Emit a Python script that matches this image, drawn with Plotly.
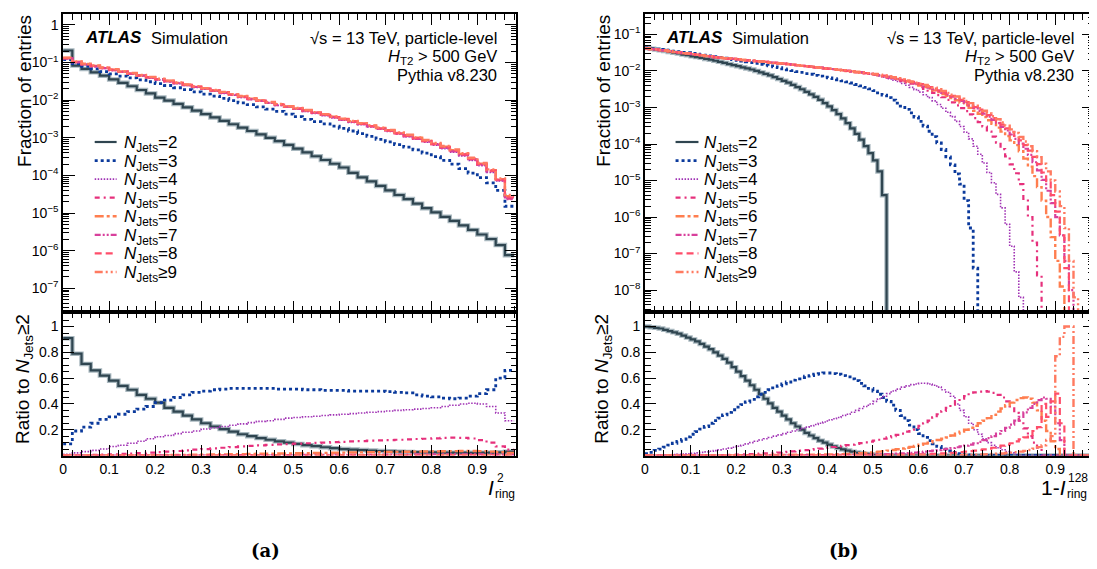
import plotly.graph_objects as go

FONT = "Liberation Sans"
# the page has an 8 px body margin: the figure is offset by 8 px inside the 1097x569 window
W, H = 1089, 561
OFF = 8


def px(x):
    return (x - OFF) / W


def py(y):
    return 1 - (y - OFF) / H


# ---------------- bin grids ----------------
edges_a = [round(0.02 * i, 2) for i in range(50)]   # 49 bins, 0 .. 0.98
edges_b = [round(0.01 * i, 2) for i in range(100)]  # 99 bins, 0 .. 0.99

series_names = ["<i>N</i><sub>Jets</sub>=2", "<i>N</i><sub>Jets</sub>=3", "<i>N</i><sub>Jets</sub>=4",
                "<i>N</i><sub>Jets</sub>=5", "<i>N</i><sub>Jets</sub>=6", "<i>N</i><sub>Jets</sub>=7",
                "<i>N</i><sub>Jets</sub>=8", "<i>N</i><sub>Jets</sub>≥9"]

# ---------------- (a) top: log10(fraction of entries) ----------------
a_top_nj2 = [-0.68, -1.08, -1.17, -1.26, -1.35, -1.45, -1.54, -1.63, -1.73, -1.82,
             -1.93, -2.01, -2.10, -2.19, -2.28, -2.37, -2.46, -2.55, -2.64, -2.73,
             -2.82, -2.91, -3.00, -3.09, -3.19, -3.29, -3.39, -3.49, -3.59, -3.69,
             -3.79, -3.93, -4.05, -4.16, -4.28, -4.40, -4.52, -4.63, -4.75, -4.87,
             -4.98, -5.10, -5.21, -5.33, -5.45, -5.57, -5.69, -5.85, -6.12]
a_top_nj3 = [-0.92, -1.03, -1.10, -1.17, -1.24, -1.30, -1.36, -1.41, -1.46, -1.51,
             -1.56, -1.61, -1.67, -1.72, -1.78, -1.84, -1.89, -1.95, -2.01, -2.07,
             -2.12, -2.18, -2.24, -2.30, -2.37, -2.44, -2.51, -2.57, -2.63, -2.69,
             -2.75, -2.82, -2.89, -2.96, -3.04, -3.11, -3.18, -3.25, -3.32, -3.41,
             -3.50, -3.60, -3.70, -3.82, -3.94, -4.06, -4.20, -4.40, -4.82]
a_top_nj4 = [-0.90, -1.00, -1.06, -1.11, -1.16, -1.21, -1.26, -1.31, -1.36, -1.41,
             -1.46, -1.51, -1.56, -1.61, -1.66, -1.71, -1.76, -1.82, -1.87, -1.93,
             -1.98, -2.03, -2.08, -2.14, -2.19, -2.24, -2.30, -2.35, -2.41, -2.47,
             -2.53, -2.59, -2.65, -2.71, -2.77, -2.83, -2.90, -2.97, -3.04, -3.12,
             -3.20, -3.29, -3.38, -3.48, -3.60, -3.74, -3.92, -4.15, -4.60]
a_top_nj5 = [-0.89, -0.99, -1.05, -1.10, -1.15, -1.20, -1.25, -1.30, -1.35, -1.40,
             -1.45, -1.50, -1.55, -1.60, -1.65, -1.70, -1.75, -1.80, -1.86, -1.91,
             -1.97, -2.02, -2.07, -2.12, -2.18, -2.23, -2.28, -2.34, -2.39, -2.45,
             -2.51, -2.57, -2.63, -2.69, -2.75, -2.81, -2.88, -2.95, -3.02, -3.09,
             -3.17, -3.26, -3.35, -3.45, -3.57, -3.71, -3.88, -4.12, -4.62]
a_top_nj6 = [-0.88, -0.98, -1.04, -1.09, -1.14, -1.19, -1.24, -1.29, -1.34, -1.39,
             -1.44, -1.49, -1.54, -1.59, -1.64, -1.69, -1.74, -1.79, -1.85, -1.90,
             -1.96, -2.01, -2.06, -2.11, -2.17, -2.22, -2.27, -2.33, -2.38, -2.44,
             -2.50, -2.56, -2.62, -2.68, -2.74, -2.80, -2.87, -2.93, -3.00, -3.08,
             -3.16, -3.24, -3.33, -3.43, -3.55, -3.69, -3.86, -4.10, -4.55]
a_top_nj7 = [-0.89, -0.99, -1.05, -1.10, -1.15, -1.20, -1.25, -1.30, -1.35, -1.40,
             -1.45, -1.50, -1.55, -1.60, -1.65, -1.70, -1.75, -1.81, -1.86, -1.92,
             -1.97, -2.02, -2.07, -2.13, -2.18, -2.23, -2.29, -2.34, -2.40, -2.46,
             -2.52, -2.58, -2.64, -2.70, -2.76, -2.82, -2.89, -2.96, -3.03, -3.10,
             -3.18, -3.27, -3.36, -3.46, -3.58, -3.72, -3.89, -4.13, -4.63]
a_top_nj8 = [-0.88, -0.98, -1.04, -1.09, -1.14, -1.19, -1.24, -1.29, -1.34, -1.39,
             -1.44, -1.49, -1.54, -1.59, -1.64, -1.69, -1.74, -1.80, -1.85, -1.91,
             -1.96, -2.01, -2.06, -2.12, -2.17, -2.22, -2.28, -2.33, -2.39, -2.45,
             -2.51, -2.57, -2.63, -2.69, -2.75, -2.81, -2.88, -2.94, -3.01, -3.09,
             -3.17, -3.25, -3.34, -3.44, -3.56, -3.70, -3.87, -4.11, -4.58]
a_top_nj9 = [-0.87, -0.97, -1.03, -1.08, -1.13, -1.18, -1.23, -1.28, -1.33, -1.38,
             -1.43, -1.48, -1.53, -1.58, -1.63, -1.68, -1.73, -1.78, -1.84, -1.89,
             -1.95, -2.00, -2.05, -2.10, -2.16, -2.21, -2.26, -2.32, -2.37, -2.43,
             -2.49, -2.55, -2.61, -2.67, -2.73, -2.79, -2.86, -2.92, -2.99, -3.06,
             -3.14, -3.22, -3.31, -3.41, -3.53, -3.67, -3.84, -4.08, -4.52]

# ---------------- (a) bottom: ratio to N_Jets>=2 ----------------
a_ratio_nj2 = [0.91, 0.79, 0.71, 0.66, 0.62, 0.58, 0.54, 0.51, 0.47, 0.44,
               0.41, 0.37, 0.34, 0.31, 0.28, 0.25, 0.225, 0.205, 0.185, 0.165,
               0.15, 0.135, 0.122, 0.11, 0.10, 0.09, 0.08, 0.072, 0.064, 0.057,
               0.05, 0.046, 0.042, 0.038, 0.035, 0.032, 0.03, 0.028, 0.026, 0.025,
               0.024, 0.023, 0.022, 0.022, 0.021, 0.022, 0.022, 0.025, 0.03]
a_ratio_nj3 = [0.09, 0.19, 0.22, 0.25, 0.28, 0.30, 0.32, 0.34, 0.36, 0.38,
               0.41, 0.43, 0.45, 0.47, 0.49, 0.50, 0.51, 0.515, 0.52, 0.52,
               0.52, 0.52, 0.52, 0.515, 0.515, 0.515, 0.51, 0.51, 0.505, 0.505,
               0.505, 0.50, 0.50, 0.50, 0.50, 0.495, 0.49, 0.485, 0.47, 0.46,
               0.455, 0.445, 0.44, 0.445, 0.46, 0.48, 0.51, 0.60, 0.66]
a_ratio_nj4 = [0.01, 0.02, 0.03, 0.04, 0.05, 0.07, 0.08, 0.095, 0.11, 0.13,
               0.145, 0.155, 0.17, 0.18, 0.19, 0.205, 0.215, 0.225, 0.235, 0.245,
               0.255, 0.265, 0.27, 0.28, 0.29, 0.295, 0.30, 0.305, 0.31, 0.315,
               0.32, 0.325, 0.33, 0.335, 0.34, 0.345, 0.35, 0.355, 0.36, 0.365,
               0.37, 0.38, 0.39, 0.40, 0.405, 0.40, 0.38, 0.33, 0.27]
a_ratio_nj5 = [0.0, 0.002, 0.003, 0.005, 0.007, 0.009, 0.012, 0.015, 0.018, 0.022,
               0.026, 0.03, 0.035, 0.04, 0.045, 0.05, 0.055, 0.06, 0.065, 0.07,
               0.074, 0.078, 0.082, 0.086, 0.089, 0.092, 0.095, 0.098, 0.10, 0.103,
               0.106, 0.109, 0.112, 0.115, 0.117, 0.12, 0.122, 0.125, 0.128, 0.13,
               0.133, 0.136, 0.138, 0.137, 0.132, 0.12, 0.10, 0.07, 0.045]
a_ratio_nj6 = [0.0, 0.0, 0.0, 0.0, 0.001, 0.001, 0.001, 0.002, 0.002, 0.003,
               0.003, 0.004, 0.005, 0.005, 0.006, 0.007, 0.008, 0.009, 0.010, 0.011,
               0.012, 0.013, 0.014, 0.015, 0.016, 0.017, 0.018, 0.019, 0.020, 0.021,
               0.022, 0.023, 0.024, 0.025, 0.026, 0.027, 0.028, 0.029, 0.030, 0.031,
               0.032, 0.033, 0.034, 0.035, 0.035, 0.034, 0.030, 0.025, 0.020]
a_ratio_nj7 = [0.0, 0.0, 0.0, 0.0, 0.0, 0.0, 0.0, 0.0, 0.001, 0.001,
               0.001, 0.001, 0.001, 0.001, 0.002, 0.002, 0.002, 0.002, 0.003, 0.003,
               0.003, 0.003, 0.004, 0.004, 0.004, 0.004, 0.005, 0.005, 0.005, 0.005,
               0.006, 0.006, 0.006, 0.006, 0.007, 0.007, 0.007, 0.007, 0.008, 0.008,
               0.008, 0.008, 0.009, 0.009, 0.009, 0.009, 0.008, 0.007, 0.006]
a_ratio_nj8 = [0.0, 0.0, 0.0, 0.0, 0.0, 0.0, 0.0, 0.0, 0.0, 0.0,
               0.0, 0.0, 0.0, 0.0, 0.0, 0.001, 0.001, 0.001, 0.001, 0.001,
               0.001, 0.001, 0.001, 0.001, 0.001, 0.001, 0.001, 0.001, 0.002, 0.002,
               0.002, 0.002, 0.002, 0.002, 0.002, 0.002, 0.002, 0.002, 0.002, 0.002,
               0.003, 0.003, 0.003, 0.003, 0.003, 0.003, 0.003, 0.002, 0.002]
a_ratio_nj9 = [0.0, 0.0, 0.0, 0.0, 0.0, 0.0, 0.0, 0.0, 0.0, 0.0,
               0.0, 0.0, 0.0, 0.0, 0.0, 0.0, 0.0, 0.0, 0.0, 0.0,
               0.0, 0.0, 0.0, 0.0, 0.0, 0.0, 0.0, 0.0, 0.0, 0.0,
               0.001, 0.001, 0.001, 0.001, 0.001, 0.001, 0.001, 0.001, 0.001, 0.001,
               0.001, 0.001, 0.001, 0.001, 0.001, 0.001, 0.001, 0.001, 0.001]

# ---------------- (b) top: log10(fraction of entries) ----------------
b_top_nj2 = [-1.37, -1.39, -1.41, -1.43, -1.45, -1.48, -1.50, -1.52, -1.55, -1.57,
             -1.60, -1.62, -1.64, -1.67, -1.69, -1.72, -1.75, -1.78, -1.81, -1.84,
             -1.87, -1.90, -1.93, -1.96, -2.00, -2.04, -2.08, -2.12, -2.17, -2.22,
             -2.27, -2.32, -2.38, -2.44, -2.50, -2.57, -2.64, -2.71, -2.79, -2.88,
             -2.97, -3.07, -3.18, -3.30, -3.43, -3.57, -3.72, -3.88, -4.06, -4.25,
             -4.45, -4.75, -5.40]
b_top_nj3 = [-1.37, -1.38, -1.40, -1.41, -1.43, -1.44, -1.46, -1.47, -1.49, -1.50,
             -1.52, -1.54, -1.55, -1.57, -1.59, -1.61, -1.63, -1.65, -1.67, -1.69,
             -1.71, -1.73, -1.75, -1.77, -1.79, -1.82, -1.84, -1.86, -1.89, -1.91,
             -1.94, -1.97, -1.99, -2.02, -2.04, -2.07, -2.09, -2.12, -2.14, -2.17,
             -2.19, -2.21, -2.24, -2.27, -2.30, -2.33, -2.37, -2.41, -2.45, -2.49,
             -2.54, -2.60, -2.66, -2.73, -2.80, -2.88, -2.96, -3.05, -3.15, -3.26,
             -3.38, -3.51, -3.65, -3.80, -3.97, -4.15, -4.35, -4.57, -4.82, -5.10,
             -5.55, -6.30, -7.40]
b_top_multi_head = [-1.38, -1.40, -1.41, -1.43, -1.44, -1.46, -1.48, -1.49, -1.51, -1.52,
                    -1.54, -1.56, -1.57, -1.59, -1.60, -1.62, -1.64, -1.65, -1.66, -1.67,
                    -1.68, -1.70, -1.71, -1.72, -1.73, -1.74, -1.75, -1.77, -1.78, -1.79,
                    -1.80, -1.81, -1.83, -1.84, -1.86, -1.87, -1.88, -1.90, -1.91, -1.93,
                    -1.94, -1.95, -1.97, -1.98, -2.00, -2.01, -2.03, -2.04, -2.06, -2.08]
b_top_nj4_tail = [-2.11, -2.14, -2.17, -2.21, -2.25, -2.29, -2.34, -2.39, -2.45, -2.51,
                  -2.58, -2.65, -2.73, -2.82, -2.92, -3.02, -3.13, -3.25, -3.38, -3.52,
                  -3.68, -3.86, -4.06, -4.28, -4.52, -4.78, -5.06, -5.38, -5.75, -6.20,
                  -6.80, -7.50, -8.20]
b_top_nj5_tail = [-2.10, -2.12, -2.15, -2.18, -2.21, -2.24, -2.27, -2.31, -2.35, -2.39,
                  -2.44, -2.49, -2.54, -2.60, -2.66, -2.72, -2.79, -2.86, -2.94, -3.02,
                  -3.10, -3.19, -3.29, -3.40, -3.52, -3.66, -3.80, -3.96, -4.14, -4.34,
                  -4.56, -4.80, -5.10, -5.50, -6.00, -6.70, -7.60]
b_top_nj6_tail = [-2.09, -2.11, -2.14, -2.16, -2.19, -2.22, -2.25, -2.28, -2.32, -2.36,
                  -2.40, -2.44, -2.48, -2.53, -2.58, -2.63, -2.68, -2.74, -2.80, -2.87,
                  -2.94, -3.01, -3.09, -3.17, -3.26, -3.35, -3.45, -3.55, -3.66, -3.78,
                  -3.90, -4.03, -4.20, -4.40, -4.62, -4.88, -5.18, -5.55, -6.00, -6.55,
                  -7.20, -7.90]
b_top_nj7_tail = [-2.09, -2.11, -2.14, -2.16, -2.19, -2.22, -2.25, -2.28, -2.31, -2.34,
                  -2.38, -2.42, -2.46, -2.50, -2.55, -2.60, -2.65, -2.70, -2.76, -2.82,
                  -2.88, -2.95, -3.02, -3.09, -3.17, -3.25, -3.34, -3.43, -3.53, -3.63,
                  -3.74, -3.86, -3.99, -4.13, -4.30, -4.50, -4.72, -4.98, -5.28, -5.62,
                  -6.00, -6.50, -7.20, -8.00]
b_top_nj8_tail = [-2.09, -2.11, -2.13, -2.16, -2.18, -2.21, -2.24, -2.27, -2.30, -2.33,
                  -2.36, -2.40, -2.44, -2.48, -2.53, -2.58, -2.63, -2.68, -2.73, -2.79,
                  -2.85, -2.92, -2.99, -3.06, -3.13, -3.21, -3.29, -3.38, -3.47, -3.57,
                  -3.67, -3.78, -3.90, -4.03, -4.18, -4.35, -4.55, -4.78, -5.05, -5.40,
                  -5.85, -6.50, -7.40]
b_top_nj9_tail = [-2.08, -2.10, -2.12, -2.15, -2.17, -2.20, -2.23, -2.26, -2.29, -2.32,
                  -2.35, -2.38, -2.42, -2.46, -2.50, -2.55, -2.60, -2.65, -2.70, -2.76,
                  -2.82, -2.88, -2.95, -3.02, -3.09, -3.16, -3.24, -3.32, -3.41, -3.50,
                  -3.60, -3.70, -3.81, -3.93, -4.06, -4.20, -4.36, -4.54, -4.75, -5.00,
                  -5.30, -5.70, -6.30, -7.20, -8.20]

# ---------------- (b) bottom: ratio to N_Jets>=2 ----------------
b_ratio_nj2 = [1.00, 0.995, 0.99, 0.985, 0.975, 0.965, 0.955, 0.945, 0.93, 0.915,
               0.90, 0.885, 0.865, 0.845, 0.825, 0.80, 0.775, 0.75, 0.72, 0.685,
               0.65, 0.615, 0.58, 0.545, 0.51, 0.475, 0.44, 0.405, 0.37, 0.34,
               0.31, 0.28, 0.25, 0.225, 0.20, 0.175, 0.155, 0.135, 0.115, 0.10,
               0.085, 0.07, 0.058, 0.047, 0.038, 0.03, 0.023, 0.017, 0.012, 0.008,
               0.005, 0.003, 0.001]
b_ratio_nj3 = [0.015, 0.025, 0.04, 0.05, 0.065, 0.08, 0.095, 0.11, 0.125, 0.145,
               0.165, 0.185, 0.205, 0.225, 0.25, 0.27, 0.29, 0.315, 0.335, 0.355,
               0.375, 0.395, 0.415, 0.435, 0.455, 0.475, 0.49, 0.51, 0.525, 0.54,
               0.555, 0.57, 0.585, 0.595, 0.605, 0.615, 0.62, 0.63, 0.635, 0.64,
               0.64, 0.635, 0.63, 0.62, 0.61, 0.595, 0.58, 0.56, 0.54, 0.52,
               0.50, 0.475, 0.45, 0.42, 0.39, 0.35, 0.31, 0.27, 0.235, 0.20,
               0.17, 0.14, 0.115, 0.09, 0.07, 0.05, 0.035, 0.025, 0.015, 0.01,
               0.005, 0.003, 0.001]
b_ratio_nj4 = [0.0, 0.001, 0.002, 0.003, 0.004, 0.005, 0.007, 0.009, 0.011, 0.014,
               0.017, 0.02, 0.024, 0.028, 0.033, 0.038, 0.044, 0.05, 0.057, 0.064,
               0.072, 0.08, 0.09, 0.10, 0.11, 0.12, 0.13, 0.14, 0.15, 0.16,
               0.17, 0.18, 0.19, 0.20, 0.21, 0.22, 0.23, 0.24, 0.25, 0.26,
               0.275, 0.285, 0.295, 0.31, 0.32, 0.335, 0.35, 0.365, 0.38, 0.40,
               0.42, 0.44, 0.46, 0.48, 0.50, 0.515, 0.53, 0.54, 0.55, 0.555,
               0.56, 0.56, 0.555, 0.545, 0.53, 0.51, 0.49, 0.46, 0.40, 0.35,
               0.30, 0.25, 0.20, 0.165, 0.13, 0.10, 0.08, 0.06, 0.045, 0.03,
               0.02, 0.01]
b_ratio_nj5 = [0.0, 0.0, 0.0, 0.0, 0.0, 0.0, 0.0, 0.0, 0.0, 0.0,
               0.001, 0.001, 0.001, 0.002, 0.002, 0.003, 0.003, 0.004, 0.005, 0.006,
               0.007, 0.008, 0.009, 0.010, 0.012, 0.014, 0.016, 0.018, 0.020, 0.023,
               0.026, 0.029, 0.032, 0.035, 0.038, 0.042, 0.046, 0.050, 0.054, 0.058,
               0.062, 0.066, 0.070, 0.075, 0.080, 0.085, 0.090, 0.096, 0.102, 0.108,
               0.115, 0.122, 0.13, 0.14, 0.15, 0.16, 0.17, 0.185, 0.20, 0.215,
               0.23, 0.25, 0.27, 0.295, 0.32, 0.345, 0.37, 0.395, 0.42, 0.44,
               0.46, 0.475, 0.49, 0.495, 0.50, 0.495, 0.485, 0.47, 0.45, 0.42,
               0.38, 0.33, 0.27, 0.21, 0.15, 0.10, 0.06]
b_ratio_nj6 = [0.0, 0.0, 0.0, 0.0, 0.0, 0.0, 0.0, 0.0, 0.0, 0.0,
               0.0, 0.0, 0.0, 0.0, 0.001, 0.001, 0.001, 0.001, 0.002, 0.002,
               0.002, 0.002, 0.003, 0.003, 0.003, 0.004, 0.004, 0.004, 0.005, 0.005,
               0.005, 0.006, 0.006, 0.006, 0.007, 0.007, 0.007, 0.007, 0.008, 0.008,
               0.008, 0.009, 0.010, 0.011, 0.012, 0.014, 0.016, 0.018, 0.020, 0.023,
               0.026, 0.03, 0.034, 0.038, 0.043, 0.048, 0.054, 0.06, 0.067, 0.075,
               0.083, 0.092, 0.10, 0.11, 0.12, 0.13, 0.14, 0.155, 0.17, 0.185,
               0.20, 0.215, 0.23, 0.25, 0.27, 0.29, 0.315, 0.34, 0.365, 0.39,
               0.41, 0.43, 0.445, 0.45, 0.44, 0.41, 0.35, 0.27, 0.19, 0.11,
               0.05]
b_ratio_nj7 = [0.0, 0.0, 0.0, 0.0, 0.0, 0.0, 0.0, 0.0, 0.0, 0.0,
               0.0, 0.0, 0.0, 0.0, 0.0, 0.0, 0.0, 0.0, 0.0, 0.0,
               0.0, 0.0, 0.001, 0.001, 0.001, 0.001, 0.001, 0.002, 0.002, 0.002,
               0.002, 0.002, 0.003, 0.003, 0.003, 0.003, 0.004, 0.004, 0.004, 0.004,
               0.005, 0.005, 0.005, 0.005, 0.006, 0.006, 0.006, 0.006, 0.006, 0.006,
               0.007, 0.008, 0.009, 0.010, 0.012, 0.014, 0.016, 0.018, 0.020, 0.023,
               0.026, 0.03, 0.034, 0.038, 0.042, 0.047, 0.052, 0.058, 0.064, 0.07,
               0.077, 0.085, 0.095, 0.105, 0.12, 0.135, 0.15, 0.17, 0.19, 0.215,
               0.24, 0.27, 0.30, 0.335, 0.37, 0.40, 0.43, 0.45, 0.44, 0.38,
               0.25, 0.12]
b_ratio_nj8 = [0.0, 0.0, 0.0, 0.0, 0.0, 0.0, 0.0, 0.0, 0.0, 0.0,
               0.0, 0.0, 0.0, 0.0, 0.0, 0.0, 0.0, 0.0, 0.0, 0.0,
               0.0, 0.0, 0.0, 0.0, 0.0, 0.0, 0.0, 0.0, 0.0, 0.0,
               0.001, 0.001, 0.001, 0.001, 0.001, 0.002, 0.002, 0.002, 0.002, 0.002,
               0.003, 0.003, 0.003, 0.003, 0.004, 0.004, 0.004, 0.005, 0.005, 0.005,
               0.005, 0.006, 0.006, 0.006, 0.007, 0.007, 0.007, 0.007, 0.008, 0.008,
               0.008, 0.009, 0.01, 0.012, 0.014, 0.016, 0.018, 0.02, 0.023, 0.026,
               0.03, 0.034, 0.038, 0.043, 0.048, 0.054, 0.06, 0.068, 0.076, 0.085,
               0.095, 0.11, 0.125, 0.14, 0.16, 0.19, 0.22, 0.40, 0.30, 0.42,
               0.48, 0.25]
b_ratio_nj9 = [0.0, 0.0, 0.0, 0.0, 0.0, 0.0, 0.0, 0.0, 0.0, 0.0,
               0.0, 0.0, 0.0, 0.0, 0.0, 0.0, 0.0, 0.0, 0.0, 0.0,
               0.0, 0.0, 0.0, 0.0, 0.0, 0.0, 0.0, 0.0, 0.0, 0.0,
               0.0, 0.0, 0.0, 0.0, 0.0, 0.0, 0.0, 0.0, 0.0, 0.0,
               0.0, 0.0, 0.0, 0.0, 0.0, 0.0, 0.0, 0.0, 0.0, 0.0,
               0.001, 0.001, 0.001, 0.001, 0.001, 0.001, 0.001, 0.001, 0.001, 0.002,
               0.002, 0.002, 0.002, 0.002, 0.002, 0.003, 0.003, 0.003, 0.003, 0.003,
               0.004, 0.005, 0.006, 0.007, 0.008, 0.01, 0.012, 0.014, 0.016, 0.019,
               0.022, 0.026, 0.03, 0.036, 0.043, 0.052, 0.065, 0.08, 0.12, 0.15,
               0.77, 0.92, 1.0, 1.0]

# ---------------- styles ----------------
colors = ["#2f4550", "#0b3a9c", "#a032b4", "#e6307c", "#ff7e4f", "#d8409c", "#ff4d6a", "#ff7a60"]
dashes = ["solid", "3px,3px", "1.5px,1.5px", "5px,4px,2px,4px", "9px,3px,3px,3px",
          "6px,2px,2px,2px,2px,2px", "7px,4px", "8px,3px,2px,3px,2px,3px"]
widths = [2.2, 2.8, 1.6, 2.2, 2.4, 2.2, 2.2, 2.4]
HALO = "#a9b8bf"

a_top = [a_top_nj2, a_top_nj3, a_top_nj4, a_top_nj5, a_top_nj6, a_top_nj7, a_top_nj8, a_top_nj9]
a_ratio = [a_ratio_nj2, a_ratio_nj3, a_ratio_nj4, a_ratio_nj5, a_ratio_nj6, a_ratio_nj7, a_ratio_nj8, a_ratio_nj9]
b_top = [b_top_nj2, b_top_nj3,
         b_top_multi_head + b_top_nj4_tail, b_top_multi_head + b_top_nj5_tail,
         b_top_multi_head + b_top_nj6_tail, b_top_multi_head + b_top_nj7_tail,
         b_top_multi_head + b_top_nj8_tail, b_top_multi_head + b_top_nj9_tail]
b_ratio = [b_ratio_nj2, b_ratio_nj3, b_ratio_nj4, b_ratio_nj5, b_ratio_nj6, b_ratio_nj7, b_ratio_nj8, b_ratio_nj9]

N_B = len(edges_b) - 1


def step_xy(edges, vals, drop=None):
    n = len(vals)
    xs = edges[:n + 1]
    ys = list(vals) + [vals[-1] if drop is None else drop]
    return xs, ys


fig = go.Figure()


def add_series(xs, ys, i, xa, ya):
    if i == 0:
        fig.add_trace(go.Scatter(x=xs, y=ys, mode="lines", line=dict(shape="hv", color=HALO, width=4.5),
                                 xaxis=xa, yaxis=ya, showlegend=False, hoverinfo="skip"))
    fig.add_trace(go.Scatter(x=xs, y=ys, mode="lines", name=series_names[i],
                             line=dict(shape="hv", color=colors[i], dash=dashes[i], width=widths[i]),
                             xaxis=xa, yaxis=ya, showlegend=False))


for i in range(8):
    xs, ys = step_xy(edges_a, [10 ** v for v in a_top[i]])
    add_series(xs, ys, i, "x", "y")
for i in range(8):
    xs, ys = step_xy(edges_a, a_ratio[i])
    add_series(xs, ys, i, "x2", "y2")
for i in range(8):
    xs, ys = step_xy(edges_b, [10 ** v for v in b_top[i]], drop=1e-14)
    add_series(xs, ys, i, "x3", "y3")
for i in range(8):
    vals = list(b_ratio[i]) + [0.0] * (N_B - len(b_ratio[i]))
    xs, ys = step_xy(edges_b, vals)
    add_series(xs, ys, i, "x4", "y4")

# ---------------- axes ----------------
TOP_DOM = [py(312), py(14)]
BOT_DOM = [py(455.5), py(312)]
LEFT_DOM = [px(59.3), px(514.3)]
RIGHT_DOM = [px(643.3), px(1094)]
tickfont = dict(family=FONT, size=14, color="black")


def xax(dom, anchor, labels):
    return dict(domain=dom, anchor=anchor, range=[0, 0.985], showline=True, linecolor="black", linewidth=1.5,
                mirror="ticks", ticks="inside", ticklen=11, tickwidth=1.2, tickcolor="black",
                tick0=0, dtick=0.1, showticklabels=labels, tickfont=tickfont, showgrid=False, zeroline=False,
                minor=dict(ticks="inside", ticklen=6, dtick=0.02, tick0=0, tickcolor="black", tickwidth=1,
                           showgrid=False))


def logy(dom, anchor, rng, decades):
    tv = [10 ** d for d in decades]
    tt = ["1" if d == 0 else "10<sup>−%d</sup>" % (-d) for d in decades]
    mv = [m * 10 ** d for d in range(decades[0] - 1, decades[-1] + 1) for m in range(2, 10)]
    return dict(domain=dom, anchor=anchor, type="log", range=rng, showline=True, linecolor="black",
                linewidth=1.5, mirror="ticks", ticks="inside", ticklen=12, tickwidth=1.2, tickcolor="black",
                tickmode="array", tickvals=tv, ticktext=tt, tickfont=tickfont, showgrid=False, zeroline=False,
                minor=dict(ticks="inside", ticklen=6, tickmode="array", tickvals=mv, tickcolor="black",
                           tickwidth=1, showgrid=False))


def ratioy(dom, anchor):
    return dict(domain=dom, anchor=anchor, range=[0, 1.113], showline=True, linecolor="black", linewidth=1.5,
                mirror="ticks", ticks="inside", ticklen=11, tickwidth=1.2, tickcolor="black",
                tickmode="array", tickvals=[0.2, 0.4, 0.6, 0.8, 1.0], ticktext=["0.2", "0.4", "0.6", "0.8", "1"],
                tickfont=tickfont, showgrid=False, zeroline=False,
                minor=dict(ticks="inside", ticklen=6, dtick=0.05, tick0=0, tickcolor="black", tickwidth=1,
                           showgrid=False))


layout_axes = dict(
    xaxis=xax(LEFT_DOM, "y", False), yaxis=logy(TOP_DOM, "x", [-7.63, 0.29], list(range(-7, 1))),
    xaxis2=xax(LEFT_DOM, "y2", True), yaxis2=ratioy(BOT_DOM, "x2"),
    xaxis3=xax(RIGHT_DOM, "y3", False), yaxis3=logy(TOP_DOM, "x3", [-8.60, -0.44], list(range(-8, 0))),
    xaxis4=xax(RIGHT_DOM, "y4", True), yaxis4=ratioy(BOT_DOM, "x4"),
)
layout_axes["xaxis"]["matches"] = "x2"
layout_axes["xaxis3"]["matches"] = "x4"

ann = []
shapes = []


def text(x, y, s, size, xanchor="left", yanchor="middle", angle=0, family=FONT):
    ann.append(dict(x=px(x), y=py(y), xref="paper", yref="paper", text=s, showarrow=False,
                    xanchor=xanchor, yanchor=yanchor, textangle=angle, borderpad=0,
                    font=dict(family=family, size=size, color="black")))


for x0, xr in [(80, 496), (663, 1075)]:
    text(x0, 38, "<b><i>ATLAS</i></b>", 17)
    text(x0 + 67, 38, "Simulation", 16.5)
    text(xr, 38, "√s = 13 TeV, particle-level", 16.5, xanchor="right")
    text(xr, 57, "<i>H</i><sub>T2</sub> > 500 GeV", 16.5, xanchor="right")
    text(xr, 75, "Pythia v8.230", 16.5, xanchor="right")

for xc in [20, 601]:
    text(xc, 14, "Fraction of entries", 19, xanchor="center", yanchor="top", angle=-90)
    text(xc, 313, "Ratio to <i>N</i><sub>Jets</sub>≥2", 19, xanchor="center", yanchor="top", angle=-90)

# legends (line sample + label), drawn in page coordinates
for (lx0, lx1, tx) in [(91, 113, 119), (674, 697, 702)]:
    for i in range(8):
        yy = 142 + 18.57 * i
        shapes.append(dict(type="line", xref="paper", yref="paper", x0=px(lx0), x1=px(lx1),
                           y0=py(yy), y1=py(yy), line=dict(color=colors[i], width=widths[i], dash=dashes[i])))
        text(tx, yy + 2, series_names[i], 17)

# x-axis titles
text(493, 487, "<i>I</i>", 21, xanchor="right")
text(494, 478, "2", 12)
text(492, 494, "ring", 12)
text(1067, 487, "1-<i>I</i>", 21, xanchor="right")
text(1067, 478, "128", 12)
text(1066, 494, "ring", 12)

text(262, 550, "<b>(a)</b>", 18, xanchor="center", family="DejaVu Serif")
text(843, 550, "<b>(b)</b>", 18, xanchor="center", family="DejaVu Serif")

fig.update_layout(
    width=W, height=H, margin=dict(l=0, r=0, t=0, b=0), autosize=False,
    paper_bgcolor="white", plot_bgcolor="white", showlegend=False,
    annotations=ann, shapes=shapes,
    **layout_axes,
)

fig.write_html("out.html")
